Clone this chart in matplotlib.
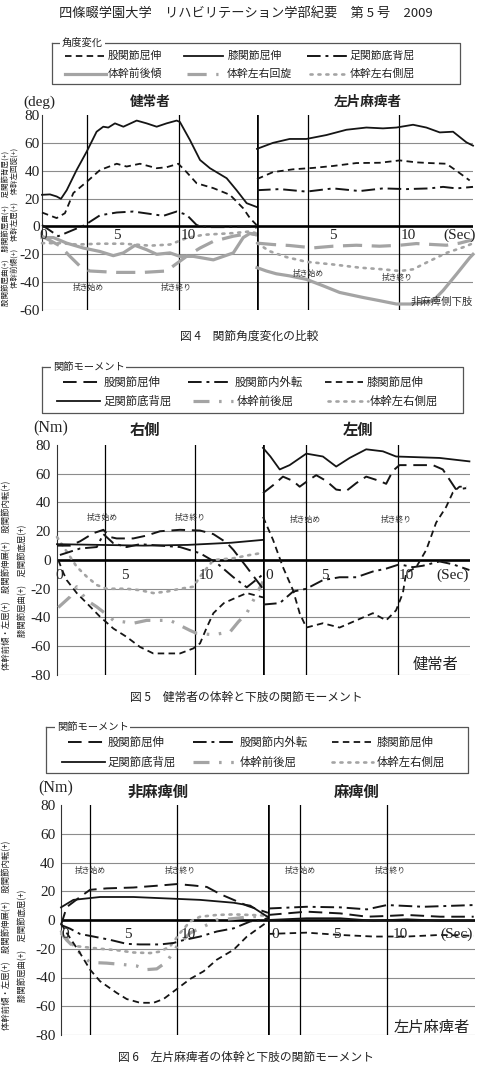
import matplotlib
matplotlib.use('Agg')
import matplotlib.pyplot as plt

JP = ['Noto Sans CJK JP', 'DejaVu Sans']
SERIF = ['Liberation Serif', 'DejaVu Serif']
plt.rcParams['font.family'] = JP
plt.rcParams['axes.unicode_minus'] = False

# ======================= DATA =======================
# ---- Fig 4: joint angle (deg), healthy subject (left panel) ----
f4h_knee_t = [0, 0.54, 0.99, 1.28, 1.67, 2.34, 3.02, 3.69, 4.14, 4.48, 4.93, 5.5, 6.4, 7.07, 7.75, 8.42, 9.1, 9.32, 10.0, 10.68, 11.35, 12.48, 13.15, 13.83, 14.5]
f4h_knee = [22.7, 23, 21.5, 19.8, 26, 40.5, 53.7, 68, 71.6, 71, 74, 71.6, 76, 74, 71.6, 74, 76, 75, 62, 47.7, 41.8, 34.6, 26, 16.7, 14]
f4h_hip_t = [0, 0.99, 1.55, 2.12, 3.02, 3.92, 5.05, 5.72, 6.62, 7.75, 8.42, 9.21, 9.77, 10.45, 11.58, 12.7, 13.6, 14.05, 14.5]
f4h_hip = [10, 6, 9.5, 24, 32, 40.5, 45, 43, 45, 41.8, 42.5, 45, 39, 31, 27.5, 22.7, 13, 6, 1]
f4h_ankle_t = [0, 1.1, 1.89, 2.9, 3.92, 5.05, 6.17, 7.3, 8.2, 9.1, 9.77, 10.45, 11.13, 12.48, 14.0, 14.5]
f4h_ankle = [1, -7, -3.5, 1, 8, 10, 10.7, 9, 7.6, 10.7, 8.4, 1, -0.5, -0.5, 0, -1]
f4h_tfwd_t = [0, 0.77, 1.67, 2.79, 3.92, 4.82, 5.5, 6.28, 7.07, 7.75, 8.65, 9.32, 10.23, 11.58, 12.93, 13.6, 14.05, 14.5]
f4h_tfwd = [-8, -8, -12, -15.5, -18, -21, -19, -13.6, -16.7, -20, -19, -21.5, -21.5, -24, -19, -8, -5, -6]
f4h_trot_t = [0, 1.22, 1.89, 2.57, 3.24, 5.05, 6.85, 8.42, 8.99, 9.77, 10.68, 11.58, 12.93, 14.05, 14.5]
f4h_trot = [-7, -14, -21.5, -28.6, -32, -33, -33, -32, -27.5, -21.5, -15.5, -10.7, -7, -5, -6]
f4h_tlat_t = [0, 1.22, 2.34, 3.92, 5.5, 7.3, 8.65, 9.77, 10.9, 12.93, 14.05, 14.5]
f4h_tlat = [-12, -12, -13, -12.4, -12.4, -13.8, -13, -8.4, -6, -4.8, -3.6, -5]

# ---- Fig 4: hemiplegic subject (right panel) ----
f4p_knee_t = [0, 1.06, 2.16, 3.27, 4.59, 5.92, 7.24, 8.34, 9.23, 10.33, 11.21, 12.1, 12.98, 13.86, 14.3]
f4p_knee = [55.7, 60, 62.8, 62.8, 65.6, 69.4, 71, 70.4, 71, 73, 71, 67.5, 68, 60.4, 58]
f4p_hip_t = [0, 1.06, 2.38, 3.71, 5.03, 6.58, 8.12, 9.45, 10.55, 11.43, 12.54, 13.2, 14.08]
f4p_hip = [34, 39, 41, 42, 43.4, 45.5, 45.7, 47.4, 46, 45.5, 45, 40, 33]
f4p_ankle_t = [0, 1.5, 3.27, 5.03, 6.8, 8.34, 9.89, 11.43, 12.32, 13.2, 14.3]
f4p_ankle = [26, 26.8, 25, 27.3, 25.4, 27.3, 26.8, 27.3, 28.4, 27.3, 28.4]
f4p_tfwd_t = [0, 0.62, 1.28, 2.16, 3.27, 4.37, 5.47, 7.02, 8.12, 9.23, 10.33, 11.66, 12.32, 13.2, 14.08, 14.3]
f4p_tfwd = [-29.6, -32, -34, -35.5, -38, -42.6, -47.4, -51, -53.3, -55.7, -55.7, -53.3, -46, -34.4, -22.5, -20]
f4p_trot_t = [0, 1.06, 2.16, 3.71, 5.03, 6.58, 8.12, 9.45, 10.55, 11.66, 12.54, 13.42, 14.3]
f4p_trot = [-12, -13, -13.7, -15.4, -14.2, -13.5, -14.2, -13.5, -12.3, -13, -13.5, -12, -9.5]
f4p_tlat_t = [0, 0.84, 1.94, 3.27, 5.03, 6.8, 8.34, 9.45, 10.33, 11.21, 12.54, 13.86, 14.3]
f4p_tlat = [-12, -17.8, -22, -25.4, -27.3, -29.6, -30.8, -32, -30.8, -26, -19, -14.2, -12]

# ---- Fig 5: joint moment (Nm), healthy, right side ----
f5r_hip_t = [0, 0.9, 1.59, 2.5, 3.2, 3.66, 4.11, 5.26, 6.18, 7.1, 8.48, 9.86, 10.78, 11.7, 12.16, 13.08, 13.3, 14.2]
f5r_hip = [10, 10, 13, 18.6, 21, 16, 15, 15, 17, 20, 21, 20.5, 18, 12, 7, -5, -8, -20]
f5r_rot_t = [0.2, 0.67, 1.59, 2.74, 3.2, 3.89, 4.8, 5.72, 7.1, 8.48, 9.86, 11.0, 12.16, 13.08, 14.2]
f5r_rot = [3.5, 5, 8, 9, 18, 11.6, 9, 11, 10, 9, 4.7, -2, -12, -19, -10]
f5r_knee_t = [0.09, 0.44, 0.67, 1.36, 2.05, 2.97, 3.89, 4.8, 5.72, 6.64, 8.48, 9.4, 9.86, 10.32, 10.78, 11.5, 12.16, 13.08, 14.2]
f5r_knee = [0, -9, -14, -23, -30, -39.5, -47.7, -53.5, -60.5, -65, -65, -61.5, -58, -47, -37, -30, -27, -23, -26]
f5r_ankle_t = [0, 3, 6, 9, 12, 14.2]
f5r_ankle = [11, 10.5, 10, 10.5, 12, 14]
f5r_tfwd_t = [0.09, 0.9, 1.36, 2.05, 2.74, 3.43, 3.89, 5.26, 6.18, 7.1, 7.8, 9.17, 9.63, 10.78, 11.93, 12.5, 13.08, 14.2]
f5r_tfwd = [-33, -25.6, -18.6, -28, -32.6, -38, -42, -44, -42, -42, -42, -49, -51, -52, -50, -43, -37, -15]
f5r_tlat_t = [0, 0.44, 0.9, 1.36, 2.05, 2.74, 3.43, 4.8, 5.72, 6.64, 7.56, 8.48, 9.4, 9.86, 10.32, 10.78, 12.16, 13.3, 14.2]
f5r_tlat = [16, 9.3, 2.3, -4.7, -11.6, -17.4, -20, -20, -21, -23, -22, -20, -18.6, -11.6, -5.8, 0, 1.2, 3.5, 5]

# ---- Fig 5: healthy, left side ----
f5l_hip_t = [0, 0.68, 1.35, 2.03, 2.48, 3.15, 3.6, 4.28, 4.95, 5.63, 6.31, 6.98, 7.88, 8.33, 8.78, 9.23, 10.36, 11.49, 12.16, 12.61, 13.06, 13.74]
f5l_hip = [46.5, 52, 58, 55, 51, 56, 59, 55, 49, 48, 53.5, 58, 55, 53, 62, 66, 66, 66, 63, 56, 49, 50]
f5l_ankle_t = [0, 0.5, 1.13, 1.8, 2.93, 4.05, 4.95, 5.86, 6.98, 8.11, 9.0, 11.94, 13.96]
f5l_ankle = [78, 72, 63, 66, 74, 72, 65, 71, 77, 75.6, 72, 71, 68.6]
f5l_knee_t = [0, 0.68, 1.35, 2.03, 2.48, 2.93, 4.05, 5.18, 6.31, 7.43, 8.33, 9.0, 9.46, 9.68, 10.36, 11.04, 11.71, 12.39, 12.84, 13.29, 13.74]
f5l_knee = [30, 14, -5, -21, -37, -47, -44, -47, -42, -37, -42, -35, -23, -9, -5, 7, 26, 37, 47, 51, 51]
f5l_rot_t = [0, 1.13, 2.03, 2.93, 4.05, 5.18, 6.31, 7.43, 8.33, 9.23, 10.14, 10.81, 11.94, 12.84, 13.96]
f5l_rot = [-31, -30, -22, -20, -14, -12, -12, -8, -6, -3, -5, -4, -1, -3, -7]

# ---- Fig 6: hemiplegic, non-paralysed side ----
f6n_hip_t = [0, 0.44, 1.46, 2.23, 3.51, 5.56, 7.6, 8.9, 10.18, 11.2, 12.23, 13.26, 14.28, 15.9]
f6n_hip = [-3.5, 9, 16, 21, 22, 22.6, 24, 25, 24, 23, 18, 14, 10, 5]
f6n_ankle_t = [0, 0.95, 3.0, 5.56, 8.13, 10.69, 13.26, 14.54, 15.9]
f6n_ankle = [8.8, 14, 16, 16, 15, 14, 12, 10, 2]
f6n_rot_t = [0, 0.69, 1.46, 2.49, 3.77, 5.05, 6.08, 7.6, 8.64, 9.4, 10.69, 11.97, 13.26, 14.54, 15.9]
f6n_rot = [-3.5, -6, -9.7, -11.5, -13.8, -16.6, -17, -17, -16, -14, -11.5, -8, -5.8, -1, 1]
f6n_knee_t = [0, 0.44, 1.46, 2.23, 3.0, 4.28, 5.05, 6.08, 7.1, 7.87, 8.9, 9.92, 10.95, 11.97, 13.26, 14.28, 15.9]
f6n_knee = [-2.3, -9, -23, -34.5, -42.6, -50.7, -55, -57.6, -57.6, -55, -48, -41, -35.7, -27.6, -20.7, -11.5, -1]
f6n_tfwd_t = [0, 0.44, 1.46, 2.23, 3.51, 4.8, 5.82, 6.59, 7.36, 8.13, 8.9, 9.92, 10.95, 11.97, 13.26, 14.54, 15.9]
f6n_tfwd = [-9, -14, -23, -29.5, -30, -31, -32, -34.5, -34, -29, -18.4, -9, -4.6, 0, 1, 2.3, 2.5]
f6n_tlat_t = [0, 0.95, 1.97, 3.0, 4.28, 5.56, 6.85, 7.6, 8.38, 9.15, 9.92, 10.69, 11.97, 13.26, 14.54, 15.9]
f6n_tlat = [-8, -18, -19, -20, -21, -22.6, -23, -22, -18.4, -9, -1, 2.3, 3.5, 3.9, 3.5, 3]

# ---- Fig 6: hemiplegic, paralysed side ----
f6p_rot_t = [0, 2.97, 5.54, 7.6, 9.13, 11.95, 15.8]
f6p_rot = [8, 9.2, 8.8, 7.4, 10.4, 9.2, 10.4]
f6p_hip_t = [0, 2.97, 5.54, 7.6, 9.13, 10.67, 13.23, 15.8]
f6p_hip = [3.5, 5.8, 4.6, 2.3, 2.8, 3.5, 2.3, 2.3]
f6p_knee_t = [0, 2.97, 5.54, 8.1, 10.67, 13.23, 15.8]
f6p_knee = [-9.7, -8.8, -10.4, -11.5, -11.5, -10.4, -11]
f6p_ankle_t = [0, 2.97, 5.54, 8.1, 10.67, 13.23, 15.8]
f6p_ankle = [0, 1.2, 1.2, -0.5, 0.5, -0.5, -0.5]

# ---- axis labels / texts ----
f4_yticks = [80, 60, 40, 20, 0, -20, -40, -60]
f56_yticks = [80, 60, 40, 20, 0, -20, -40, -60, -80]
header = '四條畷学園大学　リハビリテーション学部紀要　第 5 号　2009'
f4_legend_labels = ['股関節屈伸', '膝関節屈伸', '足関節底背屈', '体幹前後傾', '体幹左右回旋', '体幹左右側屈']
f56_legend_labels = ['股関節屈伸', '股関節内外転', '膝関節屈伸', '足関節底背屈', '体幹前後屈', '体幹左右側屈']

# ======================= DRAWING =======================
W, H = 478, 1084
fig = plt.figure(figsize=(W / 100, H / 100), dpi=100)
fig.patch.set_facecolor('white')

BLK = '#151515'
GRY = '#a4a4a4'
GRD = '#8c8c8c'
ST = {
    'dash':    dict(color=BLK, lw=1.3, linestyle=(0, (3.6, 2.4))),
    'long':    dict(color=BLK, lw=1.4, linestyle=(0, (7, 3.5))),
    'solid':   dict(color=BLK, lw=1.3, linestyle='-'),
    'dashdot': dict(color=BLK, lw=1.4, linestyle=(0, (7, 2.5, 1.5, 2.5))),
    'gsolid':  dict(color=GRY, lw=2.3, linestyle='-'),
    'gdash':   dict(color=GRY, lw=2.3, linestyle=(0, (6, 3))),
    'gdot':    dict(color=GRY, lw=1.9, linestyle=(0, (0.8, 2.2)), dash_capstyle='round'),
    'gdashdd': dict(color=GRY, lw=2.3, linestyle=(0, (5, 3, 0.8, 3, 0.8, 3))),
}


def px_axes(x0, x1, y0, y1):
    return fig.add_axes([x0 / W, 1 - y1 / H, (x1 - x0) / W, (y1 - y0) / H])


def panel(x0, x1, y0, y1, xmax, ylim, grid, yticks=None, pad=2, divider=False):
    ax = px_axes(x0, x1, y0, y1)
    ax.set_xlim(0, xmax)
    ax.set_ylim(*ylim)
    ax.patch.set_visible(False)
    for s in ('top', 'right', 'bottom', 'left'):
        ax.spines[s].set_visible(False)
    ax.set_xticks([])
    for g in grid:
        ax.axhline(g, color=GRD, lw=0.8, zorder=1)
    ax.axhline(0, color='black', lw=1.9, zorder=2)
    if yticks is not None:
        ax.spines['left'].set_visible(True)
        ax.spines['left'].set_linewidth(0.8)
        ax.spines['left'].set_color('#333333')
        ax.set_yticks(yticks)
        ax.set_yticklabels([str(v) for v in yticks], family=SERIF, fontsize=11, color='#222')
        ax.tick_params(axis='y', length=0, pad=pad)
    else:
        ax.set_yticks([])
    if divider:
        ax.axvline(0, color='black', lw=1.9, zorder=2)
    return ax


def events(ax, ts):
    for t in ts:
        ax.axvline(t, color='black', lw=0.9, zorder=1)


def xlabels(ax, items, y):
    for lab, t in items:
        ax.text(t, y, lab, family=SERIF, fontsize=11, ha='center', va='top', color='#222', zorder=4)


def curve(ax, t, v, st):
    ax.plot(t, v, zorder=3, clip_on=False, solid_joinstyle='round', **ST[st])


def small(ax, t, y, s, size=5.6):
    ax.text(t, y, s, fontsize=size, ha='center', va='center', color='#333', zorder=4)


# ---------------- Figure 4 ----------------
g4 = [60, 40, 20, -20, -40, -60]
a4L = panel(42, 257, 115, 310, 14.53, (-60, 80), g4, yticks=f4_yticks, pad=1.5)
a4R = panel(257, 473, 115, 310, 14.3, (-60, 80), g4, divider=True)
events(a4L, [3.04, 9.26])
events(a4R, [3.38, 9.4])
curve(a4L, f4h_tfwd_t, f4h_tfwd, 'gsolid')
curve(a4L, f4h_trot_t, f4h_trot, 'gdash')
curve(a4L, f4h_tlat_t, f4h_tlat, 'gdot')
curve(a4L, f4h_hip_t, f4h_hip, 'dash')
curve(a4L, f4h_knee_t, f4h_knee, 'solid')
curve(a4L, f4h_ankle_t, f4h_ankle, 'dashdot')
curve(a4R, f4p_tfwd_t, f4p_tfwd, 'gsolid')
curve(a4R, f4p_trot_t, f4p_trot, 'gdash')
curve(a4R, f4p_tlat_t, f4p_tlat, 'gdot')
curve(a4R, f4p_hip_t, f4p_hip, 'dash')
curve(a4R, f4p_knee_t, f4p_knee, 'solid')
curve(a4R, f4p_ankle_t, f4p_ankle, 'dashdot')
xlabels(a4L, [('0', 0.05), ('5', 5.07), ('10', 9.86)], -1.8)
xlabels(a4R, [('5', 5.03), ('10', 10.0), ('(Sec)', 13.4)], -1.8)
small(a4L, 3.1, -44, '拭き始め')
small(a4L, 9.1, -44, '拭き終り')
small(a4R, 3.38, -34, '拭き始め')
small(a4R, 9.27, -37, '拭き終り')
small(a4R, 12.2, -54, '非麻痺側下肢', size=7.5)

# ---------------- Figure 5 ----------------
g56 = [60, 40, 20, -20, -40, -60, -80]
a5L = panel(57, 263, 445, 675, 14.2, (-80, 80), g56, yticks=f56_yticks, pad=4.5)
a5R = panel(263, 470, 445, 675, 14.0, (-80, 80), g56, divider=True)
events(a5L, [3.3, 9.5])
events(a5R, [2.88, 9.1])
curve(a5L, f5r_tfwd_t, f5r_tfwd, 'gdashdd')
curve(a5L, f5r_tlat_t, f5r_tlat, 'gdot')
curve(a5L, f5r_ankle_t, f5r_ankle, 'solid')
curve(a5L, f5r_hip_t, f5r_hip, 'long')
curve(a5L, f5r_rot_t, f5r_rot, 'dashdot')
curve(a5L, f5r_knee_t, f5r_knee, 'dash')
curve(a5R, f5l_ankle_t, f5l_ankle, 'solid')
curve(a5R, f5l_hip_t, f5l_hip, 'long')
curve(a5R, f5l_rot_t, f5l_rot, 'dashdot')
curve(a5R, f5l_knee_t, f5l_knee, 'dash')
xlabels(a5L, [('0', 0.15), ('5', 4.7), ('10', 10.3)], -6)
xlabels(a5R, [('0', 0.4), ('5', 4.2), ('10', 9.7), ('(Sec)', 12.85)], -6)
small(a5L, 3.1, 29, '拭き始め')
small(a5L, 9.2, 29, '拭き終り')
small(a5R, 2.84, 28, '拭き始め')
small(a5R, 9.0, 28, '拭き終り')
a5R.text(11.7, -73, '健常者', fontsize=11, ha='center', va='center', color='#222')

# ---------------- Figure 6 ----------------
a6L = panel(61, 268, 805, 1035, 15.9, (-80, 80), g56, yticks=f56_yticks, pad=4)
a6R = panel(268, 475, 805, 1035, 15.9, (-80, 80), g56, divider=True)
events(a6L, [2.23, 8.92])
events(a6R, [2.46, 9.15])
curve(a6L, f6n_tfwd_t, f6n_tfwd, 'gdashdd')
curve(a6L, f6n_tlat_t, f6n_tlat, 'gdot')
curve(a6L, f6n_ankle_t, f6n_ankle, 'solid')
curve(a6L, f6n_hip_t, f6n_hip, 'long')
curve(a6L, f6n_rot_t, f6n_rot, 'dashdot')
curve(a6L, f6n_knee_t, f6n_knee, 'dash')
curve(a6R, f6p_ankle_t, f6p_ankle, 'solid')
curve(a6R, f6p_hip_t, f6p_hip, 'long')
curve(a6R, f6p_rot_t, f6p_rot, 'dashdot')
curve(a6R, f6p_knee_t, f6p_knee, 'dash')
xlabels(a6L, [('0', 0.3), ('5', 5.1), ('10', 9.8)], -5.5)
xlabels(a6R, [('0', 0.55), ('5', 5.3), ('10', 10.15), ('(Sec)', 14.5)], -5.5)
small(a6L, 2.23, 34, '拭き始め')
small(a6L, 9.15, 34, '拭き終り')
small(a6R, 2.46, 34, '拭き始め')
small(a6R, 9.4, 34, '拭き終り')
a6R.text(12.6, -75, '左片麻痺者', fontsize=11, ha='center', va='center', color='#222')

# ---------------- overlay: texts and legends ----------------
ov = fig.add_axes([0, 0, 1, 1], zorder=10)
ov.set_xlim(0, W)
ov.set_ylim(H, 0)
ov.axis('off')


def T(x, y, s, size, ha='left', va='center', family=JP, **kw):
    ov.text(x, y, s, fontsize=size, ha=ha, va=va, family=family, color='#222', **kw)


def legend(box, title_x, title, rows, size):
    x0, y0, x1, y1 = box
    ov.plot([x0, x1, x1, x0, x0], [y0, y0, y1, y1, y0], color='#555', lw=0.9)
    ov.text(title_x, y0, title, fontsize=7.4, ha='left', va='center', family=JP, color='#222',
            bbox=dict(fc='white', ec='none', pad=1.2))
    for xa, xb, y, tx, lab, st in rows:
        ov.plot([xa, xb], [y, y], **ST[st])
        ov.text(tx, y, lab, fontsize=size, ha='left', va='center', family=JP, color='#222')


T(246, 14, header, 9.5, ha='center')

# Fig 4 legend
L4 = f4_legend_labels
legend((52, 43, 460, 84), 62, '角度変化', [
    (65, 106, 56, 108, L4[0], 'dash'), (184, 223, 56, 228, L4[1], 'solid'), (307, 347, 56, 350, L4[2], 'dashdot'),
    (65, 106, 74, 108, L4[3], 'gsolid'), (187, 218, 74, 227, L4[4], 'gdash'), (310, 347, 74, 350, L4[5], 'gdot'),
], 7.8)
T(23, 102, '(deg)', 11, family=SERIF)
T(150, 102, '健常者', 9.8, ha='center', fontweight='bold')
T(368, 102, '左片麻痺者', 9.8, ha='center', fontweight='bold')
T(5.5, 228, '股関節屈曲(+)　膝関節屈曲(+)　足関節背屈(+)', 5.4, ha='center', rotation=90)
T(15, 218, '体幹前傾(+)　体幹左屈(+)　体幹左回旋(+)', 5.4, ha='center', rotation=90)
T(249, 336, '図 4　関節角度変化の比較', 8.5, ha='center')

# Fig 5 legend
L5 = f56_legend_labels
legend((42, 367, 463, 413), 53, '関節モーメント', [
    (63, 100, 382, 104, L5[0], 'long'), (188, 232, 382, 235, L5[1], 'dashdot'), (325, 363, 382, 367, L5[2], 'dash'),
    (57, 100, 401, 104, L5[3], 'solid'), (193, 233, 401, 237, L5[4], 'gdashdd'), (328, 368, 401, 370, L5[5], 'gdot'),
], 8.2)
T(33, 428, '(Nm)', 11.5, family=SERIF)
T(145, 430, '右側', 11, ha='center', fontweight='bold')
T(358, 430, '左側', 11, ha='center', fontweight='bold')
T(7, 575, '体幹前傾・左屈(+)　股関節伸展(+)　股関節内転(+)', 6.0, ha='center', rotation=90)
T(23, 581, '膝関節屈曲(+)　足関節底屈(+)', 6.0, ha='center', rotation=90)
T(246, 697, '図 5　健常者の体幹と下肢の関節モーメント', 8.5, ha='center')

# Fig 6 legend
legend((46, 727, 468, 773), 57, '関節モーメント', [
    (68, 105, 742, 108, L5[0], 'long'), (193, 237, 742, 240, L5[1], 'dashdot'), (332, 372, 742, 377, L5[2], 'dash'),
    (62, 105, 762, 108, L5[3], 'solid'), (193, 237, 762, 240, L5[4], 'gdashdd'), (332, 373, 762, 377, L5[5], 'gdot'),
], 8.2)
T(38, 788, '(Nm)', 11.5, family=SERIF)
T(158, 792, '非麻痺側', 11, ha='center', fontweight='bold')
T(357, 792, '麻痺側', 11, ha='center', fontweight='bold')
T(7, 935, '体幹前傾・左屈(+)　股関節伸展(+)　股関節内転(+)', 6.0, ha='center', rotation=90)
T(23, 946, '膝関節屈曲(+)　足関節底屈(+)', 6.0, ha='center', rotation=90)
T(246, 1057, '図 6　左片麻痺者の体幹と下肢の関節モーメント', 8.5, ha='center')

fig.savefig('out.png', dpi=100, facecolor='white')
